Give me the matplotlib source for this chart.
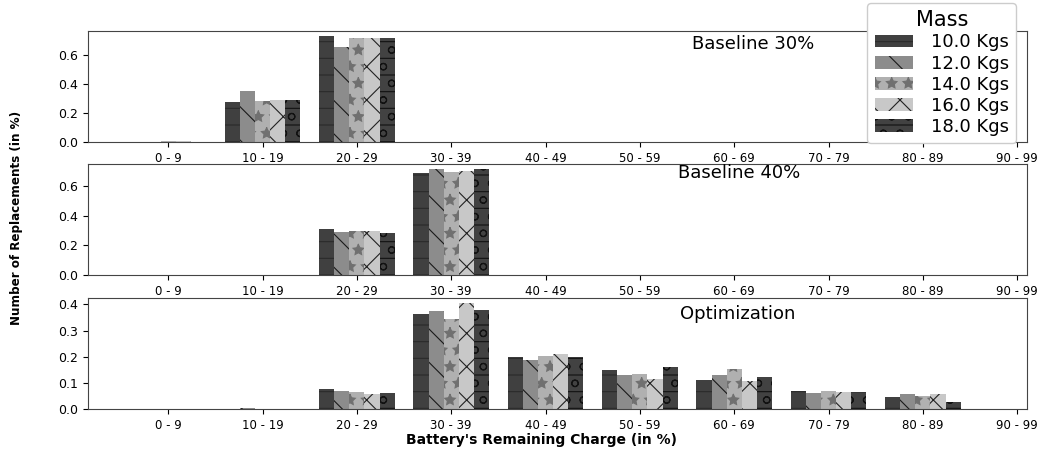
import numpy as np
import matplotlib
matplotlib.use("Agg")
import matplotlib.pyplot as plt

categories = ["0 - 9", "10 - 19", "20 - 29", "30 - 39", "40 - 49",
              "50 - 59", "60 - 69", "70 - 79", "80 - 89", "90 - 99"]
masses = ["10.0 Kgs", "12.0 Kgs", "14.0 Kgs", "16.0 Kgs", "18.0 Kgs"]

baseline30 = {
    "10.0 Kgs": [0.002, 0.276, 0.731, 0.002, 0.002, 0.002, 0.002, 0.002, 0.002, 0.0],
    "12.0 Kgs": [0.002, 0.354, 0.655, 0.002, 0.002, 0.002, 0.002, 0.002, 0.002, 0.0],
    "14.0 Kgs": [0.004, 0.285, 0.717, 0.002, 0.002, 0.002, 0.002, 0.002, 0.002, 0.0],
    "16.0 Kgs": [0.004, 0.292, 0.717, 0.002, 0.002, 0.002, 0.002, 0.002, 0.002, 0.0],
    "18.0 Kgs": [0.002, 0.292, 0.717, 0.002, 0.002, 0.002, 0.002, 0.002, 0.002, 0.0],
}
baseline40 = {
    "10.0 Kgs": [0.001, 0.001, 0.313, 0.687, 0.001, 0.001, 0.001, 0.001, 0.001, 0.0],
    "12.0 Kgs": [0.001, 0.001, 0.288, 0.712, 0.001, 0.001, 0.001, 0.001, 0.001, 0.0],
    "14.0 Kgs": [0.001, 0.001, 0.299, 0.691, 0.001, 0.001, 0.001, 0.001, 0.001, 0.0],
    "16.0 Kgs": [0.001, 0.001, 0.299, 0.698, 0.001, 0.001, 0.001, 0.001, 0.001, 0.0],
    "18.0 Kgs": [0.001, 0.001, 0.286, 0.712, 0.001, 0.001, 0.001, 0.001, 0.001, 0.0],
}
optimization = {
    "10.0 Kgs": [0.001, 0.001, 0.076, 0.362, 0.198, 0.149, 0.110, 0.069, 0.046, 0.0],
    "12.0 Kgs": [0.001, 0.003, 0.069, 0.373, 0.187, 0.130, 0.130, 0.061, 0.057, 0.0],
    "14.0 Kgs": [0.001, 0.001, 0.064, 0.343, 0.202, 0.133, 0.152, 0.067, 0.050, 0.0],
    "16.0 Kgs": [0.001, 0.001, 0.057, 0.404, 0.210, 0.114, 0.107, 0.066, 0.057, 0.0],
    "18.0 Kgs": [0.001, 0.001, 0.061, 0.377, 0.198, 0.160, 0.122, 0.065, 0.027, 0.0],
}
panel_titles = ["Baseline 30%", "Baseline 40%", "Optimization"]
panels = [baseline30, baseline40, optimization]

colors = ["#404040", "#8c8c8c", "#b0b0b0", "#c8c8c8", "#424242"]
hatches = ["-", "\\", "*", "x", "o-"]
hatch_colors = ["#2a2a2a", "#1a1a1a", "#707070", "#222222", "#111111"]

plt.rcParams["hatch.linewidth"] = 0.8

fig = plt.figure(figsize=(10.5, 4.53), dpi=100)
left, width = 0.0838, 0.894
bottoms = [0.6865, 0.393, 0.0971]
height = 0.245
title_pos = [(0.709, 0.88), (0.694, 0.92), (0.692, 0.86)]

x = np.arange(len(categories))
bw = 0.16
axes = []
for k, (data, title) in enumerate(zip(panels, panel_titles)):
    ax = fig.add_axes([left, bottoms[k], width, height])
    axes.append(ax)
    handles = []
    for j, m in enumerate(masses):
        h = ax.bar(x + (j - 2) * bw, data[m], width=bw, color=colors[j],
                   hatch=hatches[j], edgecolor=hatch_colors[j], linewidth=0,
                   label=m)
        handles.append(h)
    ax.set_xlim(-0.85, 9.1)
    ax.set_ylim(0, max(max(v) for v in data.values()) * 1.05)
    ax.set_xticks(x)
    ax.set_xticklabels(categories, fontsize=8.5)
    ax.tick_params(axis="y", labelsize=9, length=3.5)
    ax.tick_params(axis="x", length=3.5)
    for s in ax.spines.values():
        s.set_color("#444444")
    ax.text(title_pos[k][0], title_pos[k][1], title, transform=ax.transAxes,
            ha="center", va="center", fontsize=13)

axes[0].set_yticks([0.0, 0.2, 0.4, 0.6])
axes[1].set_yticks([0.0, 0.2, 0.4, 0.6])
axes[2].set_yticks([0.0, 0.1, 0.2, 0.3, 0.4])

leg = axes[0].legend(handles=handles, labels=masses, title="Mass",
                     loc="upper right", bbox_to_anchor=(0.9676, 0.993),
                     bbox_transform=fig.transFigure, fontsize=13,
                     title_fontsize=15, handlelength=2.15, handleheight=0.7,
                     labelspacing=0.17, borderpad=0.4, borderaxespad=0,
                     handletextpad=0.95, framealpha=1.0)
leg.set_zorder(10)

fig.text(0.516, 0.029, "Battery's Remaining Charge (in %)", ha="center",
         va="center", fontsize=10, fontweight="bold")
fig.text(0.016, 0.52, "Number of Replacements (in %)", ha="center",
         va="center", rotation=90, fontsize=9.5, fontweight="bold",
         fontstretch="condensed")

fig.savefig("out.png", dpi=100)
